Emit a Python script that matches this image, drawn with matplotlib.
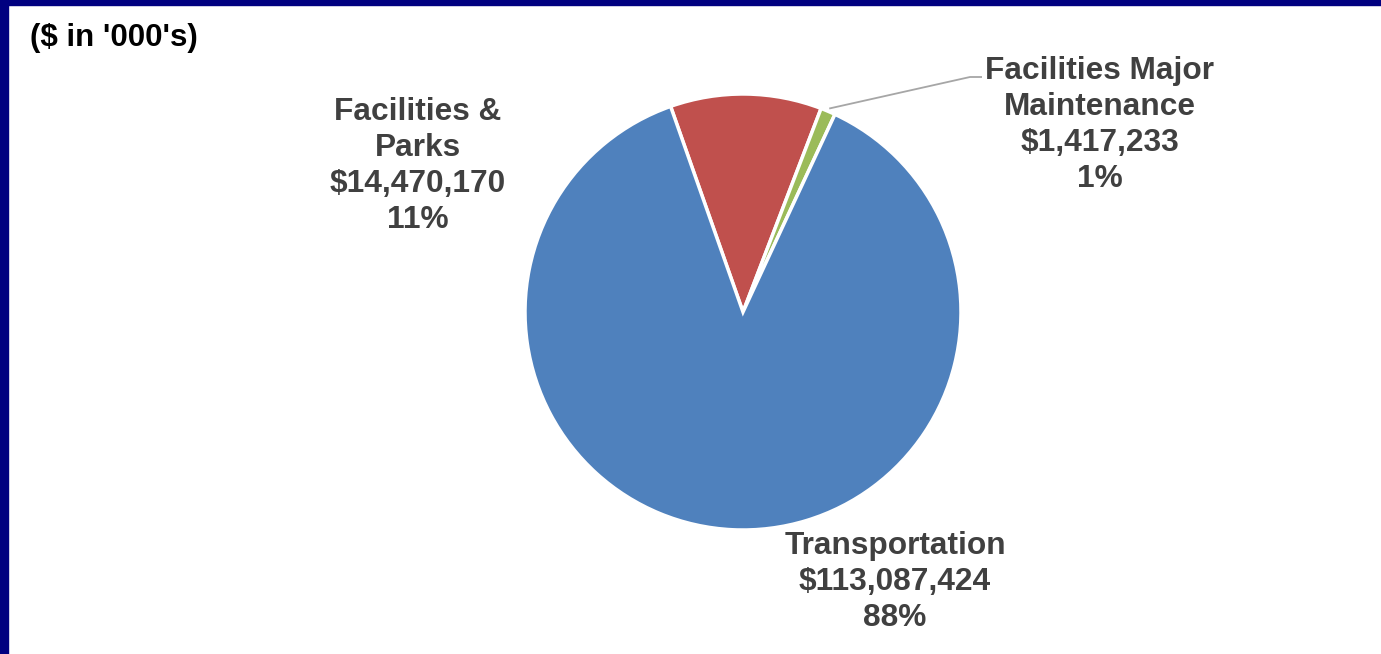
import numpy as np
import matplotlib.pyplot as plt
from matplotlib.patches import Rectangle

# data
categories = ['Facilities &\nParks', 'Facilities Major\nMaintenance', 'Transportation']
values = [14470170, 1417233, 113087424]
colors = ['#C0504D', '#9BBB59', '#4F81BD']

W, H = 1381, 654
fig = plt.figure(figsize=(W / 100, H / 100), dpi=100)
fig.patch.set_facecolor('white')
ax = fig.add_axes([0, 0, 1, 1])

cx, cy, r = 743, H - 312, 218
wedges, _ = ax.pie(values, colors=colors, startangle=109.4, counterclock=False,
                   center=(cx, cy), radius=r,
                   wedgeprops=dict(edgecolor='white', linewidth=2.5))
ax.set_xlim(0, W)
ax.set_ylim(0, H)
ax.set_aspect('equal')
ax.axis('off')

total = sum(values)
pct = [v / total * 100 for v in values]
labels = ['{}\n${:,}\n{:.0f}%'.format(c, v, p) for c, v, p in zip(categories, values, pct)]

lab_pos = [(418, H - 166), (1100, H - 125), (895, H - 582)]
font = dict(family=['Liberation Sans', 'DejaVu Sans'], fontweight='bold',
            fontsize=22.8, color='#404040', linespacing=1.25)
for lab, (x, y) in zip(labels, lab_pos):
    ax.text(x, y, lab, ha='center', va='center', **font)

# leader line for the small slice
w = wedges[1]
mid = np.deg2rad((w.theta1 + w.theta2) / 2)
sx, sy = cx + (r + 3) * np.cos(mid), cy + (r + 3) * np.sin(mid)
ax.plot([sx, 970, 982], [sy, H - 77, H - 77], color='#A6A6A6', lw=1.3,
        solid_capstyle='butt')

fig.text(30 / W, 1 - 38 / H, "($ in '000's)", ha='left', va='center',
         fontsize=22.5, fontweight='bold', color='black',
         family=['Liberation Sans', 'DejaVu Sans'])

# navy frame edges
fig.patches.append(Rectangle((0, 0), 8 / W, 1, transform=fig.transFigure,
                             color='#000080', zorder=10))
fig.patches.append(Rectangle((0, 1 - 5 / H), 1, 5 / H, transform=fig.transFigure,
                             color='#000080', zorder=10))

fig.savefig('out.png', dpi=100)
